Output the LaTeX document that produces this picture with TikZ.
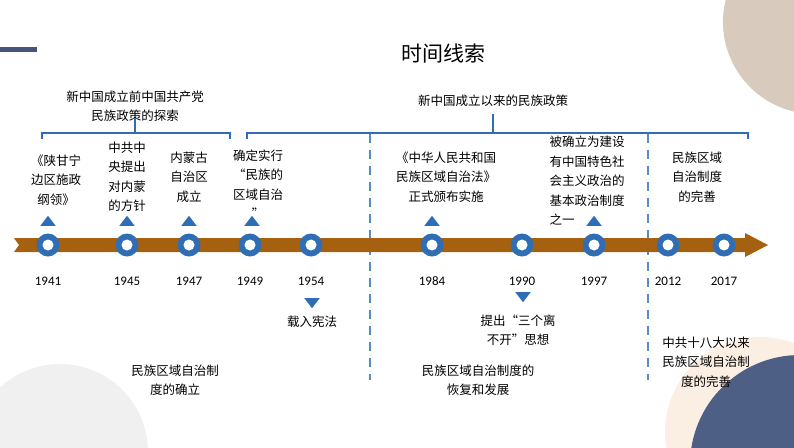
\documentclass[tikz,border=0pt]{standalone}
\usepackage{fontspec}
\usetikzlibrary{shapes.geometric}
\setmainfont{Noto Sans CJK SC}
\newfontfamily\yr{Carlito}
\definecolor{bar}{HTML}{A5610F}
\definecolor{dot}{HTML}{2F6EB5}
\definecolor{navy}{HTML}{4E5F86}
\definecolor{beige}{HTML}{D8CBBE}
\definecolor{peach}{HTML}{FBEEE3}
\begin{document}
\begin{tikzpicture}[x=1pt,y=-1pt,
  lab/.style={font=\fontsize{12.5}{19.5}\selectfont,align=center,inner sep=0pt},
  yrs/.style={font=\yr\fontsize{13}{15}\selectfont,inner sep=0pt},
  up/.style={fill=dot,draw=none,isosceles triangle,isosceles triangle apex angle=75,shape border rotate=90,minimum height=10pt,minimum width=1pt,inner sep=0pt},
  dn/.style={up,shape border rotate=-90},
  dashv/.style={draw=dot!80,dashed,dash pattern=on 9pt off 7pt,line width=1.3pt},
  brace/.style={draw=dot,line width=1.2pt}]
\useasboundingbox (0,0) rectangle (794,447);
\begin{scope}
\clip (0,0) rectangle (794,447);
\fill[black!6] (60,452) circle (88);
\fill[peach] (760,432) circle (95);
\fill[navy] (800,465) circle (110);
\fill[beige] (815,22) circle (92);
\end{scope}
\fill[navy!90!black] (0,47) rectangle (37,52);
\node[font=\fontsize{21}{24}\selectfont] (title) at (443,53) {时间线索};
% headings & braces
\node[lab] (h1) at (135,106) {新中国成立前中国共产党\\民族政策的探索};
\node[lab] (h2) at (493,101) {新中国成立以来的民族政策};
\draw[brace] (42,139) -- (42,133) -- (230,133) -- (230,139) (135,133) -- (135,118);
\draw[brace] (247,139) -- (247,133) -- (748,133) -- (748,139) (493,133) -- (493,114);
\draw[dashv] (370,134) -- (370,380);
\draw[dashv] (648,134) -- (648,380);
% bar
\fill[bar] (14,238) -- (745,238) -- (745,233) -- (768,245) -- (745,257) -- (745,252) -- (14,252) -- (19,245) -- cycle;
\foreach \n/\x/\y in {a/48/1941,b/127/1945,c/189/1947,d/250/1949,e/311/1954,f/432/1984,g/522/1990,h/594/1997,i/668/2012,j/724/2017}{
  \fill[dot] (\x,245) circle (11.5);
  \fill[white] (\x,245) circle (5.5);
  \node[yrs] (y\n) at (\x,281) {\y};
}
\foreach \x in {48,127,189,252,432,594} \node[up] at (\x,222) {};
\node[dn] at (312,302) {};
\node[dn] at (523,296) {};
% labels
\node[lab] (la) at (56,180) {《陕甘宁\\边区施政\\纲领》};
\node[lab] (lb) at (127,177) {中共中\\央提出\\对内蒙\\的方针};
\node[lab] (lc) at (189,177) {内蒙古\\自治区\\成立};
\node[lab] (ld) at (258,184) {确定实行\\“民族的\\区域自治\\”};
\node[lab] (lf) at (446,177) {《中华人民共和国\\民族区域自治法》\\正式颁布实施};
\node[lab] (lh) at (587,181) {被确立为建设\\有中国特色社\\会主义政治的\\基本政治制度\\之一\phantom{有中国特}};
\node[lab] (li) at (697,177) {民族区域\\自治制度\\的完善};
\node[lab] (le) at (312,322) {载入宪法};
\node[lab] (lg) at (518,330) {提出“三个离\\不开”思想};
\node[lab] (s1) at (175,380) {民族区域自治制\\度的确立};
\node[lab] (s2) at (478,380) {民族区域自治制度的\\恢复和发展};
\node[lab] (s3) at (706,362) {中共十八大以来\\民族区域自治制\\度的完善};
\end{tikzpicture}
\end{document}
